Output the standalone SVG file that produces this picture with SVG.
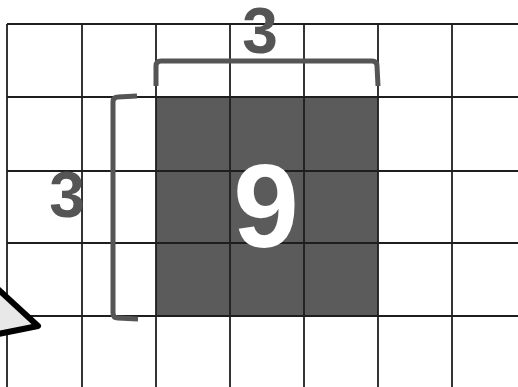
<svg xmlns="http://www.w3.org/2000/svg" width="518" height="387" viewBox="0 0 518 387">
<style>
.grid{stroke:#1e1e1e;stroke-width:1.8;fill:none}
.br{stroke:#555;stroke-width:5;fill:none;stroke-linecap:butt;stroke-linejoin:round}
.num{font-family:"Liberation Sans","DejaVu Sans",sans-serif;font-weight:bold;text-anchor:middle}
</style>
<rect width="518" height="387" fill="#fff"/>
<g id="shaded">
<rect x="156" y="97" width="222" height="219" fill="#5b5b5b"/>
</g>
<g id="grid" class="grid">
<line x1="7" y1="24" x2="7" y2="387"/>
<line x1="82" y1="24" x2="82" y2="387"/>
<line x1="156" y1="24" x2="156" y2="387"/>
<line x1="230" y1="24" x2="230" y2="387"/>
<line x1="304" y1="24" x2="304" y2="387"/>
<line x1="378" y1="24" x2="378" y2="387"/>
<line x1="452" y1="24" x2="452" y2="387"/>
<line x1="7" y1="24" x2="518" y2="24"/>
<line x1="7" y1="97" x2="518" y2="97"/>
<line x1="7" y1="171" x2="518" y2="171"/>
<line x1="7" y1="243" x2="518" y2="243"/>
<line x1="7" y1="316" x2="518" y2="316"/>
</g>
<g id="top-bracket">
<path class="br" d="M156 86 L156 66 Q156 61 161 61 L372 61 Q377 61 377 66 L378 86"/>
</g>
<g id="left-bracket">
<path class="br" d="M137 96 L118 97 Q113 97 113 102 L113 313 Q113 318 118 318 L138 319"/>
</g>
<g id="label-top">
<text class="num" x="260" y="53" font-size="64" fill="#555">3</text>
</g>
<g id="label-left">
<text class="num" x="67" y="217" font-size="64" fill="#555">3</text>
</g>
<g id="label-area">
<text class="num" x="266" y="247" font-size="118" fill="#fff">9</text>
</g>
<g id="pointer">
<polygon points="-12,280 38,326 -12,336" fill="#e8e8e8" stroke="#000" stroke-width="6" stroke-linejoin="round"/>
</g>
</svg>
